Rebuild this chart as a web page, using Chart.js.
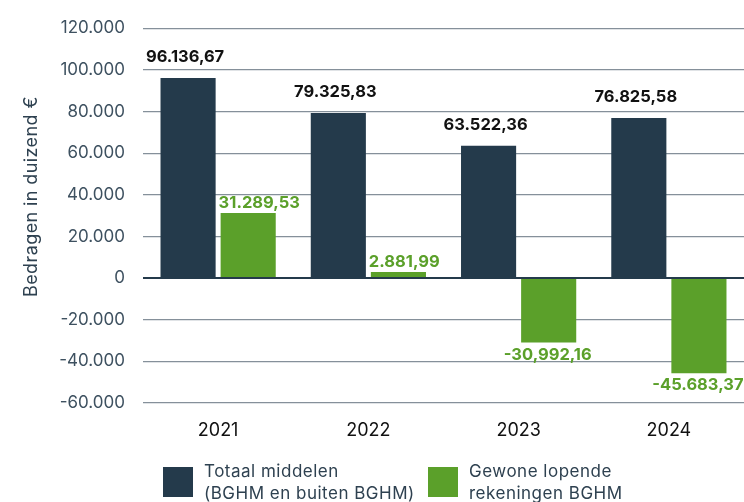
<!DOCTYPE html>
<html>
<head>
<meta charset="utf-8">
<script src="https://cdn.jsdelivr.net/npm/chart.js@4"></script>
<style>
  html, body { margin: 0; padding: 0; background: #fff; }
  #wrap { width: 744px; height: 502px; }
</style>
</head>
<body>
<div id="wrap"><canvas id="grafiek"></canvas></div>
<script>
const jaren = ["2021", "2022", "2023", "2024"];
const totaalMiddelen = [96136.67, 79325.83, 63522.36, 76825.58];
const lopendeRekeningen = [31289.53, 2881.99, -30992.16, -45683.37];
const totaalLabels = ["96.136,67", "79.325,83", "63.522,36", "76.825,58"];
const lopendeLabels = ["31.289,53", "2.881,99", "-30,992,16", "-45.683,37"];
const legendaTekst = [
  ["Totaal middelen", "(BGHM en buiten BGHM)"],
  ["Gewone lopende", "rekeningen BGHM"]
];
const asTitel = "Bedragen in duizend €";

const NAVY = "#243a4b";
const GROEN = "#5ba02a";
const FONT = "Inter, 'DejaVu Sans', sans-serif";

function fmt(v) {
  if (v === 0) return "0";
  const s = Math.abs(v).toString().replace(/\B(?=(\d{3})+(?!\d))/g, ".");
  return (v < 0 ? "-" : "") + s;
}

// waarden boven/onder de staven
const waardeLabels = {
  id: "waardeLabels",
  afterDatasetsDraw(chart) {
    const ctx = chart.ctx;
    ctx.save();
    ctx.font = "bold 16.5px " + FONT;
    chart.data.datasets.forEach((ds, i) => {
      const meta = chart.getDatasetMeta(i);
      meta.data.forEach((bar, j) => {
        const v = ds.data[j];
        if (i === 0) {
          ctx.fillStyle = "#111";
          ctx.textAlign = "center";
          ctx.textBaseline = "bottom";
          ctx.fillText(ds.tekst[j], bar.x - 3, bar.y - 13);
        } else if (v >= 0) {
          ctx.fillStyle = GROEN;
          ctx.textAlign = "left";
          ctx.textBaseline = "bottom";
          ctx.fillText(ds.tekst[j], bar.x - bar.width / 2 - 2, bar.y - 2);
        } else {
          ctx.fillStyle = GROEN;
          ctx.textAlign = "center";
          ctx.textBaseline = "top";
          ctx.fillText(ds.tekst[j], bar.x - 1, bar.y + 4);
        }
      });
    });
    ctx.restore();
  }
};

// y-as titel en legenda onderaan
const extra = {
  id: "extra",
  afterDraw(chart) {
    const ctx = chart.ctx;
    const a = chart.chartArea;
    ctx.save();
    ctx.translate(32, (a.top + a.bottom) / 2 - 19);
    ctx.rotate(-Math.PI / 2);
    ctx.font = "18px " + FONT;
    ctx.letterSpacing = "0.4px";
    ctx.fillStyle = "#2e4150";
    ctx.textAlign = "center";
    ctx.textBaseline = "middle";
    ctx.fillText(asTitel, 0, 0);
    ctx.restore();

    ctx.save();
    ctx.font = "17px " + FONT;
    ctx.letterSpacing = "0.5px";
    ctx.textBaseline = "middle";
    ctx.textAlign = "left";
    const kleuren = [NAVY, GROEN];
    const startX = [a.left + 20, a.left + 285];
    const y0 = a.bottom + 64;
    legendaTekst.forEach((regels, i) => {
      ctx.fillStyle = kleuren[i];
      ctx.fillRect(startX[i], y0, 30, 30);
      ctx.fillStyle = "#2e4150";
      regels.forEach((r, k) => ctx.fillText(r, startX[i] + 41, y0 + 5 + k * 22));
    });
    ctx.restore();
  }
};

new Chart(document.getElementById("grafiek"), {
  type: "bar",
  data: {
    labels: jaren,
    datasets: [
      { label: legendaTekst[0].join(" "), data: totaalMiddelen, tekst: totaalLabels, backgroundColor: NAVY },
      { label: legendaTekst[1].join(" "), data: lopendeRekeningen, tekst: lopendeLabels, backgroundColor: GROEN }
    ]
  },
  options: {
    responsive: true,
    maintainAspectRatio: false,
    animation: false,
    layout: { padding: { top: 27, right: 0, bottom: 0, left: 0 } },
    datasets: { bar: { categoryPercentage: 0.8, barPercentage: 0.917 } },
    plugins: { legend: { display: false }, tooltip: { enabled: false } },
    scales: {
      x: {
        grid: { display: false },
        border: { display: false },
        ticks: { color: "#111", font: { family: FONT, size: 18 }, padding: 9 },
        afterFit(s) { s.height = 99; }
      },
      y: {
        min: -60000,
        max: 120000,
        grid: {
          drawTicks: false,
          color: (c) => c.tick && c.tick.value === 0 ? NAVY : "#85909a",
          lineWidth: (c) => c.tick && c.tick.value === 0 ? 2 : 1.2
        },
        border: { display: false },
        ticks: {
          stepSize: 20000,
          padding: 18,
          color: "#3e5160",
          font: { family: FONT, size: 17 },
          callback: (v) => fmt(v)
        },
        afterFit(s) { s.width = 143; }
      }
    }
  },
  plugins: [waardeLabels, extra]
});
</script>
</body>
</html>
